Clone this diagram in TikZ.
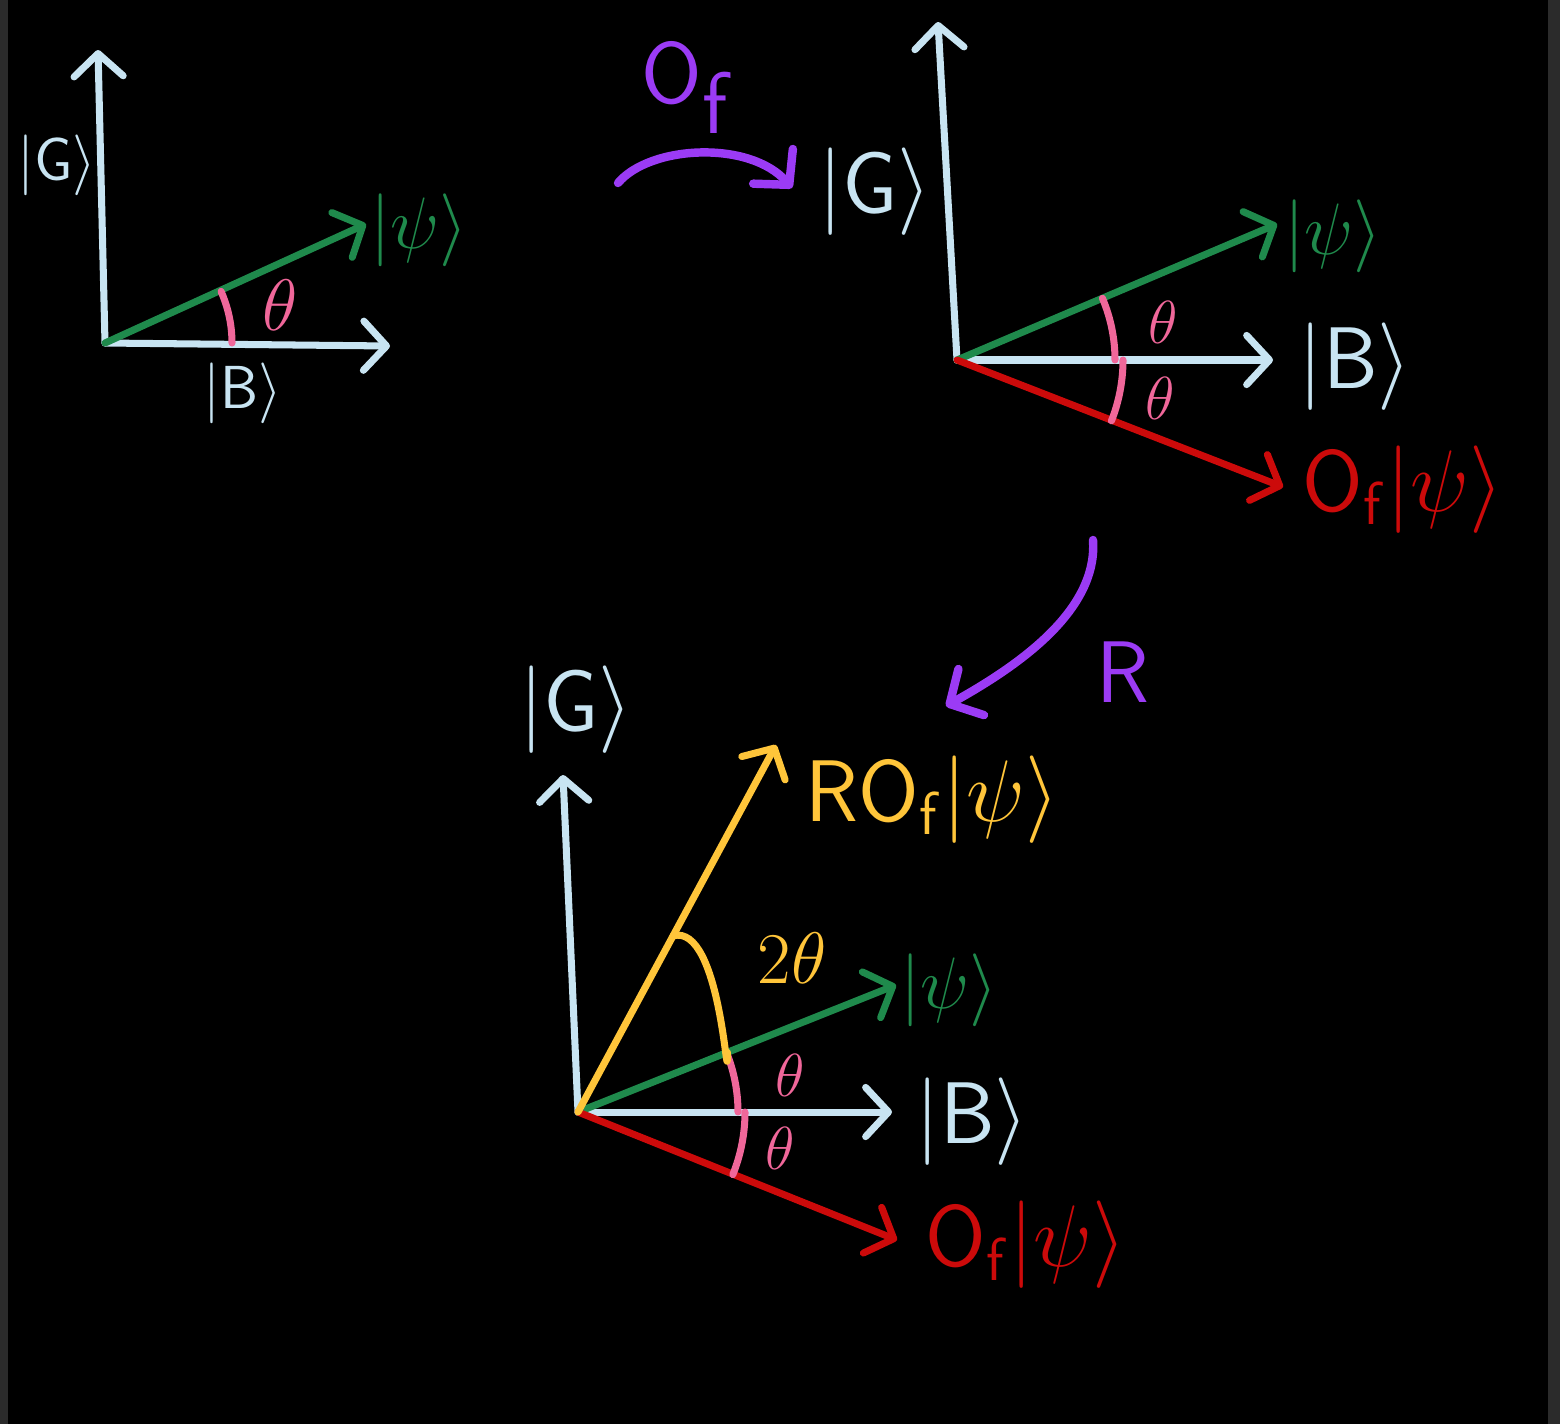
\documentclass[tikz,border=0pt]{standalone}
\usepackage{amsmath}
\usepackage{tikz}
\usetikzlibrary{arrows.meta,calc,positioning}
\definecolor{axisblue}{HTML}{C8E4F2}
\definecolor{psigreen}{HTML}{1F8A4C}
\definecolor{thetapink}{HTML}{F0679A}
\definecolor{ofred}{HTML}{CC0A0A}
\definecolor{oppurple}{HTML}{9B3BF5}
\definecolor{rofyellow}{HTML}{FFC53A}
\definecolor{edgegray}{HTML}{2B2B2B}
\newcommand{\ketG}{|\mathsf{G}\rangle}
\newcommand{\ketB}{|\mathsf{B}\rangle}
\newcommand{\ketpsi}{|\psi\rangle}
\newcommand{\oracle}{\mathsf{O}_{\mathsf{f}}}

\begin{document}
\begin{tikzpicture}[
    x=0.1mm, y=-0.1mm,
    line cap=round, line join=round,
    vec/.style={line width=2pt, -{Straight Barb[length=6.5pt,width=14pt,round]}},
    axis/.style={vec, draw=axisblue},
    psivec/.style={vec, draw=psigreen},
    ofvec/.style={vec, draw=ofred},
    rofvec/.style={vec, draw=rofyellow},
    angarc/.style={draw=thetapink, line width=2pt},
    ket/.style={inner sep=0pt, font=\fontsize{23}{27}\selectfont},
    smallket/.style={ket, font=\fontsize{18}{22}\selectfont},
    psiket/.style={ket, text=psigreen, anchor=west, font=\fontsize{21}{25}\selectfont},
    thetalbl/.style={inner sep=0pt, text=thetapink, font=\fontsize{18}{22}\selectfont},
    oparrow/.style={draw=oppurple, line width=2.4pt, -{Straight Barb[length=7pt,width=15pt,round]}},
    oplbl/.style={inner sep=0pt, text=oppurple}]

% frame
\fill[edgegray] (0,0) rectangle (1560,1424);
\fill[black] (8,0) rectangle (1548,1424);
\useasboundingbox (0,0) rectangle (1560,1424);

% first picture
\coordinate (O1) at (105,343);
\coordinate (G1) at (98,50);
\coordinate (B1) at (390,346);
\coordinate (P1) at (366,224);
\draw[axis] (O1) -- (G1);
\draw[axis] (O1) -- (B1);
\draw[psivec] (O1) -- (P1);
\draw[angarc] ([shift={(0:127)}]O1) arc[start angle=0, end angle=-24, radius=127];
\node[smallket, text=axisblue] (g1) at (57,165) {$\ketG$};
\node[smallket, text=axisblue] (b1) at (243,393) {$\ketB$};
\node[psiket] (p1) at (370,230) {$\ketpsi$};
\node[thetalbl, font=\fontsize{21}{25}\selectfont] (t1) at (280,305) {$\theta$};

% oracle step
\coordinate (ofs) at (618,183);
\coordinate (ofe) at (792,188);
\draw[oparrow] (ofs) .. controls (650,145) and (750,140) .. (ofe);
\node[oplbl, font=\fontsize{30}{34}\selectfont] (of) at (688,88) {$\mathsf{O}_{\textstyle\mathsf{f}}$};

% second picture
\coordinate (O2) at (957,360);
\coordinate (G2) at (938,22);
\coordinate (B2) at (1273,360);
\coordinate (P2) at (1277,224);
\coordinate (F2) at (1283,487);
\draw[axis] (O2) -- (G2);
\draw[axis] (O2) -- (B2);
\draw[psivec] (O2) -- (P2);
\draw[ofvec] (O2) -- (F2);
\draw[angarc] ([shift={(0:158)}]O2) arc[start angle=0, end angle=-23, radius=158];
\draw[angarc] ([shift={(0:166)}]O2) arc[start angle=0, end angle=21.5, radius=166];
\node[ket, text=axisblue] (g2) at (875,192) {$\ketG$};
\node[ket, text=axisblue, anchor=west] (b2) at (1298,367) {$\ketB$};
\node[psiket] (p2) at (1284,236) {$\ketpsi$};
\node[ket, text=ofred, anchor=west] (f2) at (1302,490) {$\oracle\ketpsi$};
\node[thetalbl] (t2a) at (1163,322) {$\theta$};
\node[thetalbl] (t2b) at (1160,398) {$\theta$};

% reflection step
\coordinate (rs) at (1093,540);
\coordinate (re) at (946,706);
\draw[oparrow] (rs) .. controls (1098,610) and (1020,665) .. (re);
\node[oplbl, font=\fontsize{23}{27}\selectfont] (r) at (1123,672) {$\mathsf{R}$};

% third picture
\coordinate (O3) at (578,1112);
\coordinate (G3) at (563,775);
\coordinate (B3) at (892,1112);
\coordinate (P3) at (896,985);
\coordinate (F3) at (897,1240);
\coordinate (Y3) at (776,745);
\draw[axis] (O3) -- (G3);
\draw[axis] (O3) -- (B3);
\draw[psivec] (O3) -- (P3);
\draw[ofvec] (O3) -- (F3);
\draw[rofvec] (O3) -- (Y3);
\draw[angarc] ([shift={(0:160)}]O3) arc[start angle=0, end angle=-22, radius=160];
\draw[angarc] ([shift={(0:167)}]O3) arc[start angle=0, end angle=22, radius=167];
\coordinate (a3s) at ($(O3)!0.48!(Y3)$);
\coordinate (a3e) at ($(O3)!0.47!(P3)$);
\draw[draw=rofyellow, line width=2pt] (a3s) to[out=15, in=-90] (a3e);
\node[ket, text=axisblue, font=\fontsize{26}{30}\selectfont] (g3) at (576,710) {$\ketG$};
\node[ket, text=axisblue, anchor=west] (b3) at (915,1122) {$\ketB$};
\node[psiket] (p3) at (900,990) {$\ketpsi$};
\node[ket, text=ofred, anchor=west] (f3) at (925,1245) {$\oracle\ketpsi$};
\node[ket, text=rofyellow, anchor=west] (y3) at (805,800) {$\mathsf{R}\oracle\ketpsi$};
\node[thetalbl, text=rofyellow, font=\fontsize{22}{26}\selectfont] (t3c) at (792,958) {$2\theta$};
\node[thetalbl] (t3a) at (790,1075) {$\theta$};
\node[thetalbl] (t3b) at (780,1148) {$\theta$};

\end{tikzpicture}
\end{document}
